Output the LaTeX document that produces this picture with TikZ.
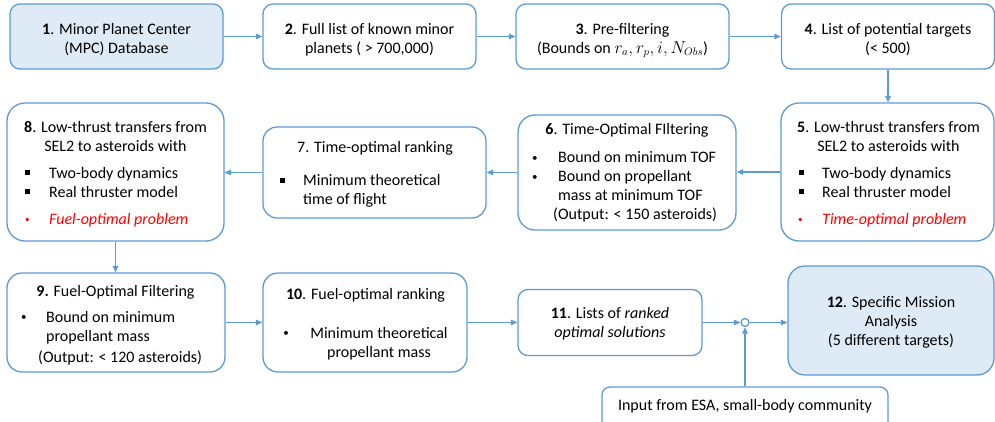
\documentclass[tikz,border=0pt]{standalone}
\usepackage{fontspec}
\setmainfont{Carlito}
\usetikzlibrary{arrows.meta}

\definecolor{flowblue}{RGB}{91,155,213}
\definecolor{flowfill}{RGB}{222,235,247}
\definecolor{flowred}{RGB}{255,0,0}

% small filled square used as a list marker
\newcommand{\sqmark}{\rule[3pt]{5pt}{5pt}}
% small round markers, black and red
\newcommand{\dotmark}{\raisebox{1.2pt}{\fontsize{11}{19}\selectfont\textbullet}}
\newcommand{\redmark}{\textcolor{flowred}{\raisebox{1.5pt}{\fontsize{9}{19}\selectfont\textbullet}}}

\begin{document}
\begin{tikzpicture}[x=1pt,y=-1pt,
  box/.style={draw=flowblue, line width=1.3pt, rounded corners=#1, inner sep=0pt},
  box/.default=10pt,
  hili/.style={fill=flowfill},
  txt/.style={font=\fontsize{16}{19}\selectfont, inner sep=0pt, anchor=base},
  lst/.style={txt, anchor=base west},
  conn/.style={draw=flowblue, line width=1.3pt, -{Triangle[length=6.5pt,width=5.5pt]}},
  junction/.style={circle, draw=flowblue, line width=1.3pt, fill=white,
    minimum size=8pt, inner sep=0pt},
]
\useasboundingbox (0,0) rectangle (995,421);
\clip (0,0) rectangle (995,421);

% ---- boxes ----
\node[box, hili, minimum width=213pt, minimum height=65pt] (b1) at (116.5,36.5) {};
\node[box, minimum width=213pt, minimum height=65pt] (b2) at (369.5,36.5) {};
\node[box, minimum width=213pt, minimum height=65pt] (b3) at (622.5,36.5) {};
\node[box, minimum width=213pt, minimum height=65pt] (b4) at (888,36.5) {};

\node[box=18pt, minimum width=213pt, minimum height=138pt] (b5) at (887.5,172) {};
\node[box=17pt, minimum width=218pt, minimum height=115pt] (b6) at (627,172.5) {};
\node[box=14pt, minimum width=223pt, minimum height=91pt] (b7) at (374.5,172.5) {};
\node[box=18pt, minimum width=217pt, minimum height=138pt] (b8) at (115.5,172) {};

\node[box=15pt, minimum width=218pt, minimum height=99pt] (b9) at (116,322.5) {};
\node[box=15pt, minimum width=204pt, minimum height=99pt] (b10) at (365,322.5) {};
\node[box, minimum width=184pt, minimum height=66pt] (b11) at (610,322.5) {};
\node[box=17pt, hili, minimum width=206pt, minimum height=109pt] (b12) at (891,320.5) {};
\node[box=8pt, minimum width=286pt, minimum height=60pt] (inp) at (745,417) {};

\node[junction] (j) at (745,322.5) {};

% ---- texts ----
\node[txt] (t1) at (116.5,34) {\begin{tabular}[t]{@{}c@{}}\textbf{1}. Minor Planet Center\\(MPC) Database\end{tabular}};
\node[txt] (t2) at (369.5,34) {\begin{tabular}[t]{@{}c@{}}\textbf{2}. Full list of known minor\\planets ( > 700,000)\end{tabular}};
\node[txt] (t3) at (622.5,34) {\begin{tabular}[t]{@{}c@{}}\textbf{3}. Pre-filtering\\(Bounds on $r_a, r_p, i, N_{Obs}$)\end{tabular}};
\node[txt] (t4) at (888,34) {\begin{tabular}[t]{@{}c@{}}\textbf{4}. List of potential targets\\(< 500)\end{tabular}};

\node[txt] (t5) at (888.5,132) {\begin{tabular}[t]{@{}c@{}}\textbf{5}. Low-thrust transfers from\\SEL2 to asteroids with\end{tabular}};
\node[lst] (l5) at (799,178) {\begin{tabular}[t]{@{}l@{}l@{}}
  \makebox[23pt][l]{\sqmark} & Two-body dynamics\\
  \makebox[23pt][l]{\sqmark} & Real thruster model\\[8pt]
  \makebox[23pt][l]{\hspace{-1pt}\redmark} & \textcolor{flowred}{\itshape Time-optimal problem}
\end{tabular}};

\node[txt] (t6) at (627,134.5) {\textbf{6}. Time-Optimal FIltering};
\node[lst] (l6) at (532,162.5) {\begin{tabular}[t]{@{}l@{}l@{}}
  \makebox[26pt][l]{\dotmark} & Bound on minimum TOF\\
  \makebox[26pt][l]{\dotmark} & Bound on propellant\\
  & mass at minimum TOF\\
  \multicolumn{2}{@{\hspace{21pt}}l@{}}{(Output: < 150 asteroids)}
\end{tabular}};

\node[txt] (t7) at (375,152) {7. Time-optimal ranking};
\node[lst] (l7) at (280,185.5) {\begin{tabular}[t]{@{}l@{}l@{}}
  \makebox[23pt][l]{\sqmark} & Minimum theoretical\\
  & time of flight
\end{tabular}};

\node[txt] (t8) at (115.5,132) {\begin{tabular}[t]{@{}c@{}}\textbf{8}. Low-thrust transfers from\\SEL2 to asteroids with\end{tabular}};
\node[lst] (l8) at (25,178) {\begin{tabular}[t]{@{}l@{}l@{}}
  \makebox[24pt][l]{\sqmark} & Two-body dynamics\\
  \makebox[24pt][l]{\sqmark} & Real thruster model\\[8pt]
  \makebox[24pt][l]{\hspace{0pt}\redmark} & \textcolor{flowred}{\itshape Fuel-optimal problem}
\end{tabular}};

\node[txt] (t9) at (115.5,296) {\textbf{9.} Fuel-Optimal Filtering};
\node[lst] (l9) at (21,322) {\begin{tabular}[t]{@{}l@{}l@{}}
  \makebox[25pt][l]{\dotmark} & Bound on minimum\\
  & propellant mass\\[2pt]
  \multicolumn{2}{@{\hspace{17pt}}l@{}}{(Output: < 120 asteroids)}
\end{tabular}};

\node[txt] (t10) at (365.5,299) {\textbf{10}. Fuel-optimal ranking};
\node[txt] (m10) at (286,338) {\dotmark};
\node[txt] (l10) at (379,338) {\begin{tabular}[t]{@{}c@{}}Minimum theoretical\\propellant mass\end{tabular}};

\node[txt] (t11) at (610,318) {\begin{tabular}[t]{@{}c@{}}\textbf{11}. Lists of \textit{ranked}\\\textit{optimal solutions}\end{tabular}};
\node[txt] (t12) at (891,307) {\begin{tabular}[t]{@{}c@{}}\textbf{12}. Specific Mission\\Analysis\\(5 different targets)\end{tabular}};
\node[txt] (ti) at (745,410) {Input from ESA, small-body community};

% ---- connectors ----
\draw[conn] (b1) -- (b2);
\draw[conn] (b2) -- (b3);
\draw[conn] (b3) -- (b4);
\draw[conn] (b4.south) -- (b4.south |- b5.north);
\draw[conn] (b5.west) -- (b6.east |- b5.west);
\draw[conn] (b6) -- (b7);
\draw[conn] (b7.west) -- (b8.east |- b7.west);
\draw[conn] (b8.south) -- (b8.south |- b9.north);
\draw[conn] (b9) -- (b10);
\draw[conn] (b10) -- (b11);
\draw[conn] (b11.east |- j) -- (j.west);
\draw[conn] (j.east) -- (j.east -| b12.west);
\draw[conn] (inp.north -| j) -- (j.south);
\end{tikzpicture}
\end{document}
